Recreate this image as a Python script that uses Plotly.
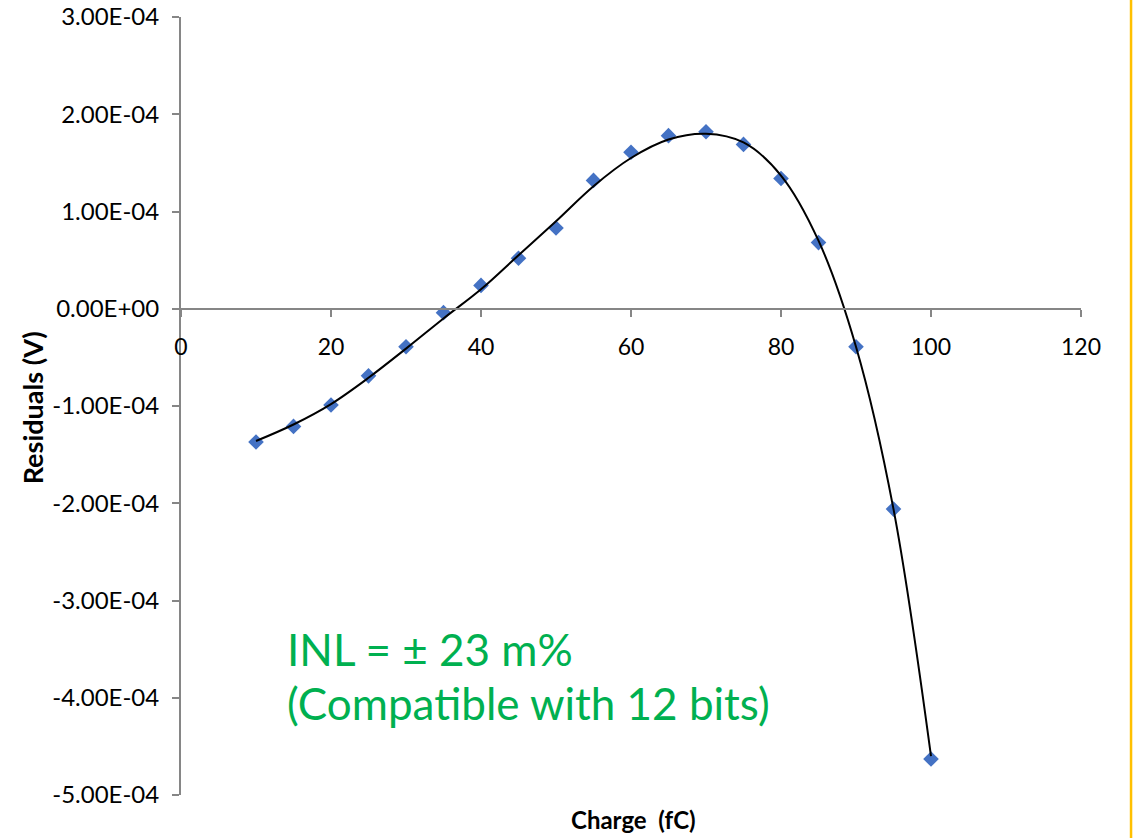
import plotly.graph_objects as go

# Measured residuals of the linear fit (V) against injected charge (fC)
charge_fc = [10, 15, 20, 25, 30, 35, 40, 45, 50, 55, 60, 65, 70, 75, 80, 85, 90, 95, 100]
residuals_v = [-1.37e-4, -1.21e-4, -0.99e-4, -0.69e-4, -0.39e-4, -0.04e-4, 0.24e-4,
               0.52e-4, 0.83e-4, 1.32e-4, 1.61e-4, 1.78e-4, 1.82e-4, 1.69e-4, 1.34e-4,
               0.68e-4, -0.39e-4, -2.06e-4, -4.63e-4]

# Polynomial trend line through the residuals
trend_x = [10, 15, 20, 25, 30, 35, 40, 45, 50, 55, 60, 65, 70, 75, 80, 85, 90, 95, 100]
trend_y = [-1.36e-4, -1.19e-4, -0.98e-4, -0.71e-4, -0.41e-4, -0.10e-4, 0.20e-4,
           0.55e-4, 0.90e-4, 1.26e-4, 1.55e-4, 1.74e-4, 1.80e-4, 1.71e-4, 1.37e-4,
           0.70e-4, -0.39e-4, -2.06e-4, -4.60e-4]

x_ticks = [0, 20, 40, 60, 80, 100, 120]
y_ticks = [3e-4, 2e-4, 1e-4, 0, -1e-4, -2e-4, -3e-4, -4e-4, -5e-4]
y_tick_labels = ["3.00E-04", "2.00E-04", "1.00E-04", "0.00E+00", "-1.00E-04",
                 "-2.00E-04", "-3.00E-04", "-4.00E-04", "-5.00E-04"]

inl_lines = ["INL = \u00b1 23 m%", "(Compatible with 12 bits)"]

FONT = "Lato"
AXIS_GREY = "#868686"
GREEN = "#00B050"

fig = go.Figure()

fig.add_trace(go.Scatter(
    x=charge_fc, y=residuals_v, mode="markers",
    marker=dict(symbol="diamond", size=12, color="#4472C4"),
    showlegend=False,
))
fig.add_trace(go.Scatter(
    x=trend_x, y=trend_y, mode="lines",
    line=dict(color="black", width=2, shape="spline", smoothing=1.0),
    showlegend=False,
))

fig.update_layout(
    width=1135, height=838,
    margin=dict(l=181, r=54, t=17, b=43),
    paper_bgcolor="white", plot_bgcolor="white",
    font=dict(family=FONT, color="black"),
    xaxis=dict(
        range=[0, 120], tickvals=x_ticks, ticks="outside", ticklen=7,
        tickcolor=AXIS_GREY, tickwidth=2, showline=True, linecolor=AXIS_GREY,
        linewidth=2, showgrid=False, zeroline=False,
        anchor="free", position=0.625, automargin=False,
        ticklabelstandoff=11,
        tickfont=dict(family=FONT, size=23, color="black"),
    ),
    yaxis=dict(
        range=[-5e-4, 3e-4], tickvals=y_ticks, ticktext=y_tick_labels,
        ticks="outside", ticklen=7, tickcolor=AXIS_GREY, tickwidth=2,
        showline=True, linecolor=AXIS_GREY, linewidth=2,
        showgrid=False, zeroline=False, automargin=False,
        ticklabelstandoff=8,
        tickfont=dict(family=FONT, size=24, color="black"),
    ),
    annotations=[
        dict(text="<b>Residuals (V)</b>", xref="paper", yref="paper",
             x=0, xshift=-149, y=0.497, textangle=-90, showarrow=False,
             font=dict(family=FONT, size=27, color="black"),
             xanchor="center", yanchor="middle"),
        dict(text="<b>Charge  (fC)</b>", xref="paper", yref="paper",
             x=0.503, y=-0.032, showarrow=False,
             font=dict(family=FONT, size=24, color="black"),
             xanchor="center", yanchor="middle"),
        dict(text=inl_lines[0], xref="x", yref="y", x=13.9, y=-3.50e-4,
             showarrow=False, xanchor="left", yanchor="middle",
             font=dict(family=FONT, size=44, color=GREEN)),
        dict(text=inl_lines[1], xref="x", yref="y", x=13.9, y=-4.05e-4,
             showarrow=False, xanchor="left", yanchor="middle",
             font=dict(family=FONT, size=44, color=GREEN)),
    ],
    shapes=[
        dict(type="line", xref="paper", yref="paper",
             x0=1.0556, x1=1.0556, y0=-0.06, y1=1.03,
             line=dict(color="#FFC000", width=2.5)),
    ],
)

fig.write_html("out.html")
